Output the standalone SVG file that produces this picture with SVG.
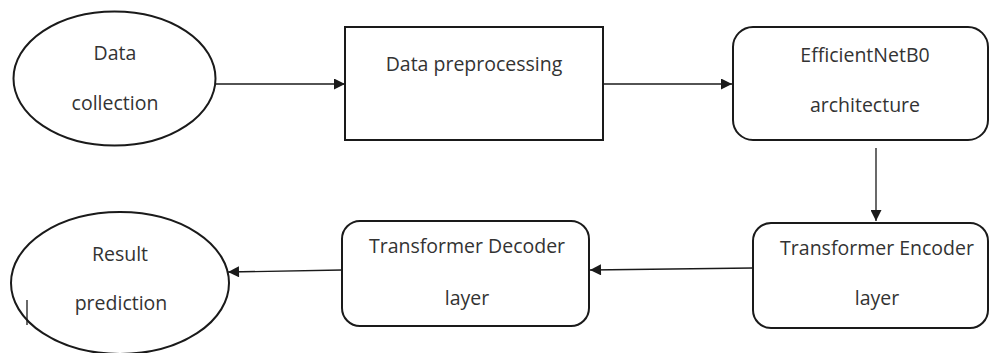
<svg xmlns="http://www.w3.org/2000/svg" width="991" height="353" viewBox="0 0 991 353">
<defs>
<style>
.n{fill:#fff;stroke:#1a1a1a;stroke-width:2}
.t{font-family:"Open Sans","Liberation Sans",sans-serif;font-size:19.5px;fill:#333;text-anchor:middle}
.c{stroke:#1a1a1a;stroke-width:1.3;fill:none}
</style>
<marker id="ah" viewBox="0 0 10 10" refX="10" refY="5" markerWidth="12" markerHeight="11" markerUnits="userSpaceOnUse" orient="auto">
<path d="M0,0L10,5L0,10z" fill="#1a1a1a"/>
</marker>
</defs>
<rect width="991" height="353" fill="#fff"/>
<g id="data-collection">
<ellipse class="n" cx="114.5" cy="78.5" rx="101" ry="67"/>
<text class="t" x="115" y="60">Data</text>
<text class="t" x="115" y="110">collection</text>
</g>
<g id="data-preprocessing">
<rect class="n" x="345" y="27" width="258" height="113"/>
<text class="t" x="474" y="71">Data preprocessing</text>
</g>
<g id="efficientnet">
<rect class="n" x="733" y="27" width="255" height="113" rx="20"/>
<text class="t" x="865" y="62">EfficientNetB0</text>
<text class="t" x="865" y="112">architecture</text>
</g>
<g id="encoder">
<rect class="n" x="753" y="223" width="235" height="105" rx="18"/>
<text class="t" x="877" y="255">Transformer Encoder</text>
<text class="t" x="877" y="305">layer</text>
</g>
<g id="decoder">
<rect class="n" x="342" y="221" width="247" height="105" rx="18"/>
<text class="t" x="467" y="253">Transformer Decoder</text>
<text class="t" x="467" y="305">layer</text>
</g>
<g id="result">
<ellipse class="n" cx="120" cy="283" rx="109" ry="71"/>
<text class="t" x="120" y="261">Result</text>
<text class="t" x="121" y="310">prediction</text>
<line x1="27" y1="300" x2="27" y2="325" stroke="#1a1a1a" stroke-width="1.3"/>
</g>
<g id="connectors">
<line class="c" x1="216" y1="84" x2="345" y2="84" marker-end="url(#ah)"/>
<line class="c" x1="603" y1="84" x2="732" y2="84" marker-end="url(#ah)"/>
<line class="c" x1="876" y1="148" x2="876" y2="221" marker-end="url(#ah)"/>
<line class="c" x1="753" y1="268" x2="590" y2="270" marker-end="url(#ah)"/>
<line class="c" x1="342" y1="270" x2="228" y2="272" marker-end="url(#ah)"/>
</g>
</svg>
